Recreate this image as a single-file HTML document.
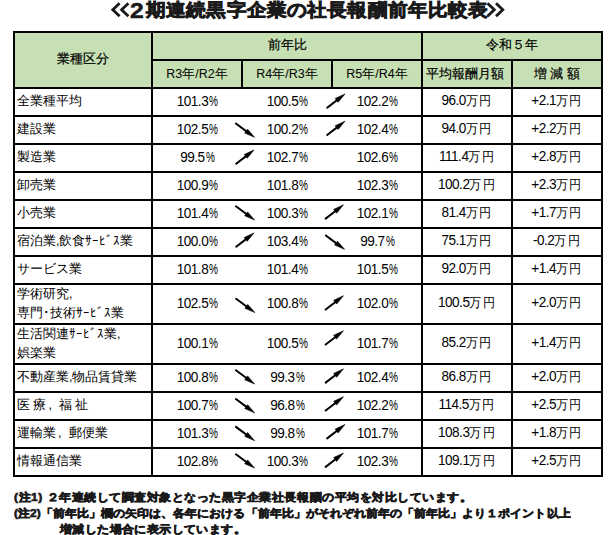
<!DOCTYPE html>
<html lang="ja"><head><meta charset="utf-8"><title>2期連続黒字企業の社長報酬前年比較表</title>
<style>
*{margin:0;padding:0;box-sizing:border-box}
html,body{width:616px;height:535px;background:#fff;overflow:hidden}
body{position:relative;font-family:"Liberation Sans",sans-serif;color:#000}
.h{position:absolute;background:#000;height:2px}
.v{position:absolute;background:#000;width:2px}
.c{position:absolute;display:flex;align-items:center;justify-content:center;white-space:nowrap}
.lb{position:absolute;display:flex;align-items:center;white-space:nowrap;font-size:12.5px;line-height:19.5px;padding-left:2px}
.n{font-size:13.6px;letter-spacing:-0.5px}
.n span{display:block;margin-top:-2px;transform:scaleY(1.07)}
.n i{font-style:normal;font-size:12.5px;letter-spacing:0.3px}
.n b{font-weight:normal;display:inline-block;transform:scaleX(0.74);transform-origin:0 0;margin-left:0.9px;margin-right:-3.4px}
.hd{font-size:12.5px;color:#000;-webkit-text-stroke:0.2px #000}
.hr{-webkit-text-stroke:0}
.hk{font-size:12.5px}
.cm{display:inline-block;width:12.5px;padding-left:2px}
#title{position:absolute;left:146px;top:0.3px;transform:scaleY(0.92);transform-origin:0 0;letter-spacing:0.15px;font-size:20px;font-weight:bold;line-height:20px;color:#1a1a1a;-webkit-text-stroke:0.9px #1a1a1a;white-space:nowrap}
#t2{position:absolute;left:130px;top:0.5px;font-size:22px;transform:scaleX(1.12);transform-origin:0 0;font-weight:bold;line-height:20px;color:#1a1a1a;-webkit-text-stroke:0.5px #1a1a1a}
.fn{position:absolute;left:14px;font-size:12px;font-weight:bold;line-height:14px;color:#1a1a1a;white-space:nowrap;-webkit-text-stroke:0.7px #1a1a1a;transform:scaleY(0.92);transform-origin:0 0}
svg{position:absolute;left:0;top:0}
</style></head><body>
<svg width="616" height="24" style="position:absolute;left:0;top:0"><g fill="none" stroke="#1a1a1a" stroke-width="2.8" stroke-linejoin="miter" stroke-miterlimit="10"><path d="M119.6,3.2 L112.8,9.7 L119.6,16.2"/><path d="M128.4,3.2 L121.6,9.7 L128.4,16.2"/><path d="M487.5,3.2 L494.3,9.7 L487.5,16.2"/><path d="M496,3.2 L502.8,9.7 L496,16.2"/></g></svg>
<div id="t2">2</div><div id="title">期連続黒字企業の社長報酬前年比較表</div>
<div style="position:absolute;left:15px;top:33px;width:586px;height:54px;background:#c6e0b4"></div>

<div class="v" style="left:13px;top:31px;height:446px"></div>
<div class="v" style="left:601px;top:31px;height:446px"></div>
<div class="h" style="left:13px;top:31px;width:590px"></div>
<div class="h" style="left:151px;top:59px;width:452px"></div>
<div class="h" style="left:13px;top:87px;width:590px"></div>
<div class="h" style="left:13px;top:115px;width:590px"></div>
<div class="h" style="left:13px;top:143px;width:590px"></div>
<div class="h" style="left:13px;top:171px;width:590px"></div>
<div class="h" style="left:13px;top:199px;width:590px"></div>
<div class="h" style="left:13px;top:227px;width:590px"></div>
<div class="h" style="left:13px;top:255px;width:590px"></div>
<div class="h" style="left:13px;top:283px;width:590px"></div>
<div class="h" style="left:13px;top:323px;width:590px"></div>
<div class="h" style="left:13px;top:363px;width:590px"></div>
<div class="h" style="left:13px;top:391px;width:590px"></div>
<div class="h" style="left:13px;top:419px;width:590px"></div>
<div class="h" style="left:13px;top:447px;width:590px"></div>
<div class="h" style="left:13px;top:475px;width:590px"></div>
<div class="v" style="left:151px;top:31px;height:446px"></div>
<div class="v" style="left:421px;top:31px;height:446px"></div>
<div class="v" style="left:511px;top:59px;height:418px"></div>
<div class="v" style="left:241px;top:59px;height:30px"></div>
<div class="v" style="left:331px;top:59px;height:30px"></div>
<div class="c hd" style="left:15px;top:31px;width:136px;height:56px">業種区分</div>
<div class="c hd" style="left:153px;top:31px;width:268px;height:28px">前年比</div>
<div class="c hd" style="left:423px;top:31px;width:178px;height:28px">令和５年</div>
<div class="c hd hr" style="left:153px;top:61px;width:88px;height:26px">R3年/R2年</div>
<div class="c hd hr" style="left:243px;top:61px;width:88px;height:26px">R4年/R3年</div>
<div class="c hd hr" style="left:333px;top:61px;width:88px;height:26px">R5年/R4年</div>
<div class="c hd" style="left:420.5px;top:61px;width:88px;height:26px">平均報酬月額</div>
<div class="c hd" style="left:513px;top:61px;width:88px;height:26px">増 減 額</div>
<div class="lb" style="left:15px;top:89px;width:136px;height:26px"><div>全業種平均</div></div>
<div class="c n" style="left:153px;top:89px;width:88px;height:26px"><span>101.3<b>%</b></span></div>
<div class="c n" style="left:243px;top:89px;width:88px;height:26px"><span>100.5<b>%</b></span></div>
<div class="c n" style="left:333px;top:89px;width:88px;height:26px"><span>102.2<b>%</b></span></div>
<div class="c n" style="left:423px;top:89px;width:88px;height:26px"><span>96.0<i>万</i><i>円</i></span></div>
<div class="c n" style="left:513px;top:89px;width:88px;height:26px"><span>+2.1<i>万</i><i>円</i></span></div>
<div class="lb" style="left:15px;top:117px;width:136px;height:26px"><div>建設業</div></div>
<div class="c n" style="left:153px;top:117px;width:88px;height:26px"><span>102.5<b>%</b></span></div>
<div class="c n" style="left:243px;top:117px;width:88px;height:26px"><span>100.2<b>%</b></span></div>
<div class="c n" style="left:333px;top:117px;width:88px;height:26px"><span>102.4<b>%</b></span></div>
<div class="c n" style="left:423px;top:117px;width:88px;height:26px"><span>94.0<i>万</i><i>円</i></span></div>
<div class="c n" style="left:513px;top:117px;width:88px;height:26px"><span>+2.2<i>万</i><i>円</i></span></div>
<div class="lb" style="left:15px;top:145px;width:136px;height:26px"><div>製造業</div></div>
<div class="c n" style="left:153px;top:145px;width:88px;height:26px"><span>99.5<b>%</b></span></div>
<div class="c n" style="left:243px;top:145px;width:88px;height:26px"><span>102.7<b>%</b></span></div>
<div class="c n" style="left:333px;top:145px;width:88px;height:26px"><span>102.6<b>%</b></span></div>
<div class="c n" style="left:423px;top:145px;width:88px;height:26px"><span>111.4<i>万</i><i>円</i></span></div>
<div class="c n" style="left:513px;top:145px;width:88px;height:26px"><span>+2.8<i>万</i><i>円</i></span></div>
<div class="lb" style="left:15px;top:173px;width:136px;height:26px"><div>卸売業</div></div>
<div class="c n" style="left:153px;top:173px;width:88px;height:26px"><span>100.9<b>%</b></span></div>
<div class="c n" style="left:243px;top:173px;width:88px;height:26px"><span>101.8<b>%</b></span></div>
<div class="c n" style="left:333px;top:173px;width:88px;height:26px"><span>102.3<b>%</b></span></div>
<div class="c n" style="left:423px;top:173px;width:88px;height:26px"><span>100.2<i>万</i><i>円</i></span></div>
<div class="c n" style="left:513px;top:173px;width:88px;height:26px"><span>+2.3<i>万</i><i>円</i></span></div>
<div class="lb" style="left:15px;top:201px;width:136px;height:26px"><div>小売業</div></div>
<div class="c n" style="left:153px;top:201px;width:88px;height:26px"><span>101.4<b>%</b></span></div>
<div class="c n" style="left:243px;top:201px;width:88px;height:26px"><span>100.3<b>%</b></span></div>
<div class="c n" style="left:333px;top:201px;width:88px;height:26px"><span>102.1<b>%</b></span></div>
<div class="c n" style="left:423px;top:201px;width:88px;height:26px"><span>81.4<i>万</i><i>円</i></span></div>
<div class="c n" style="left:513px;top:201px;width:88px;height:26px"><span>+1.7<i>万</i><i>円</i></span></div>
<div class="lb" style="left:15px;top:229px;width:136px;height:26px"><div>宿泊業,飲食<span class='hk'>ｻｰﾋﾞｽ</span>業</div></div>
<div class="c n" style="left:153px;top:229px;width:88px;height:26px"><span>100.0<b>%</b></span></div>
<div class="c n" style="left:243px;top:229px;width:88px;height:26px"><span>103.4<b>%</b></span></div>
<div class="c n" style="left:333px;top:229px;width:88px;height:26px"><span>99.7<b>%</b></span></div>
<div class="c n" style="left:423px;top:229px;width:88px;height:26px"><span>75.1<i>万</i><i>円</i></span></div>
<div class="c n" style="left:513px;top:229px;width:88px;height:26px"><span>-0.2<i>万</i><i>円</i></span></div>
<div class="lb" style="left:15px;top:257px;width:136px;height:26px"><div>サービス業</div></div>
<div class="c n" style="left:153px;top:257px;width:88px;height:26px"><span>101.8<b>%</b></span></div>
<div class="c n" style="left:243px;top:257px;width:88px;height:26px"><span>101.4<b>%</b></span></div>
<div class="c n" style="left:333px;top:257px;width:88px;height:26px"><span>101.5<b>%</b></span></div>
<div class="c n" style="left:423px;top:257px;width:88px;height:26px"><span>92.0<i>万</i><i>円</i></span></div>
<div class="c n" style="left:513px;top:257px;width:88px;height:26px"><span>+1.4<i>万</i><i>円</i></span></div>
<div class="lb" style="left:15px;top:285px;width:136px;height:38px"><div>学術研究,<br>専門･技術<span class='hk'>ｻｰﾋﾞｽ</span>業</div></div>
<div class="c n" style="left:153px;top:285px;width:88px;height:38px"><span>102.5<b>%</b></span></div>
<div class="c n" style="left:243px;top:285px;width:88px;height:38px"><span>100.8<b>%</b></span></div>
<div class="c n" style="left:333px;top:285px;width:88px;height:38px"><span>102.0<b>%</b></span></div>
<div class="c n" style="left:423px;top:285px;width:88px;height:38px"><span>100.5<i>万</i><i>円</i></span></div>
<div class="c n" style="left:513px;top:285px;width:88px;height:38px"><span>+2.0<i>万</i><i>円</i></span></div>
<div class="lb" style="left:15px;top:325px;width:136px;height:38px"><div>生活関連<span class='hk'>ｻｰﾋﾞｽ</span>業,<br>娯楽業</div></div>
<div class="c n" style="left:153px;top:325px;width:88px;height:38px"><span>100.1<b>%</b></span></div>
<div class="c n" style="left:243px;top:325px;width:88px;height:38px"><span>100.5<b>%</b></span></div>
<div class="c n" style="left:333px;top:325px;width:88px;height:38px"><span>101.7<b>%</b></span></div>
<div class="c n" style="left:423px;top:325px;width:88px;height:38px"><span>85.2<i>万</i><i>円</i></span></div>
<div class="c n" style="left:513px;top:325px;width:88px;height:38px"><span>+1.4<i>万</i><i>円</i></span></div>
<div class="lb" style="left:15px;top:365px;width:136px;height:26px"><div>不動産業,物品賃貸業</div></div>
<div class="c n" style="left:153px;top:365px;width:88px;height:26px"><span>100.8<b>%</b></span></div>
<div class="c n" style="left:243px;top:365px;width:88px;height:26px"><span>99.3<b>%</b></span></div>
<div class="c n" style="left:333px;top:365px;width:88px;height:26px"><span>102.4<b>%</b></span></div>
<div class="c n" style="left:423px;top:365px;width:88px;height:26px"><span>86.8<i>万</i><i>円</i></span></div>
<div class="c n" style="left:513px;top:365px;width:88px;height:26px"><span>+2.0<i>万</i><i>円</i></span></div>
<div class="lb" style="left:15px;top:393px;width:136px;height:26px"><div>医 療<span class='cm'>,</span>福 祉</div></div>
<div class="c n" style="left:153px;top:393px;width:88px;height:26px"><span>100.7<b>%</b></span></div>
<div class="c n" style="left:243px;top:393px;width:88px;height:26px"><span>96.8<b>%</b></span></div>
<div class="c n" style="left:333px;top:393px;width:88px;height:26px"><span>102.2<b>%</b></span></div>
<div class="c n" style="left:423px;top:393px;width:88px;height:26px"><span>114.5<i>万</i><i>円</i></span></div>
<div class="c n" style="left:513px;top:393px;width:88px;height:26px"><span>+2.5<i>万</i><i>円</i></span></div>
<div class="lb" style="left:15px;top:421px;width:136px;height:26px"><div>運輸業<span class='cm'>,</span>郵便業</div></div>
<div class="c n" style="left:153px;top:421px;width:88px;height:26px"><span>101.3<b>%</b></span></div>
<div class="c n" style="left:243px;top:421px;width:88px;height:26px"><span>99.8<b>%</b></span></div>
<div class="c n" style="left:333px;top:421px;width:88px;height:26px"><span>101.7<b>%</b></span></div>
<div class="c n" style="left:423px;top:421px;width:88px;height:26px"><span>108.3<i>万</i><i>円</i></span></div>
<div class="c n" style="left:513px;top:421px;width:88px;height:26px"><span>+1.8<i>万</i><i>円</i></span></div>
<div class="lb" style="left:15px;top:449px;width:136px;height:26px"><div>情報通信業</div></div>
<div class="c n" style="left:153px;top:449px;width:88px;height:26px"><span>102.8<b>%</b></span></div>
<div class="c n" style="left:243px;top:449px;width:88px;height:26px"><span>100.3<b>%</b></span></div>
<div class="c n" style="left:333px;top:449px;width:88px;height:26px"><span>102.3<b>%</b></span></div>
<div class="c n" style="left:423px;top:449px;width:88px;height:26px"><span>109.1<i>万</i><i>円</i></span></div>
<div class="c n" style="left:513px;top:449px;width:88px;height:26px"><span>+2.5<i>万</i><i>円</i></span></div>
<svg width="616" height="535" viewBox="0 0 616 535">
<defs><g id="au"><path d="M-8.5,6.5 L2,-1.6" stroke="#000" stroke-width="2" stroke-linecap="round"/><path d="M9.3,-7.3 L-0.47,-2.76 L2.47,1.04 Z" fill="#000" stroke="#000" stroke-width="0.6" stroke-linejoin="round"/></g>
<g id="ad"><path d="M-9,-6.5 L2.2,1.8" stroke="#000" stroke-width="2" stroke-linecap="round"/><path d="M9.7,7.3 L-0.18,2.99 L2.68,-0.87 Z" fill="#000" stroke="#000" stroke-width="0.6" stroke-linejoin="round"/></g></defs>
<use href="#au" x="335.65" y="101.25"/>
<use href="#ad" x="244.9" y="130.05"/>
<use href="#au" x="335.65" y="128.45"/>
<use href="#au" x="244.7" y="157.25"/>
<use href="#ad" x="244.9" y="212.75"/>
<use href="#au" x="334.15" y="212.15"/>
<use href="#au" x="244.7" y="240.25"/>
<use href="#ad" x="334.85" y="242.05"/>
<use href="#ad" x="245.1" y="305.25"/>
<use href="#au" x="334.15" y="303.05"/>
<use href="#au" x="334.15" y="338.05"/>
<use href="#ad" x="244.9" y="376.75"/>
<use href="#au" x="334.15" y="376.15"/>
<use href="#ad" x="244.9" y="405.55"/>
<use href="#au" x="334.15" y="404.05"/>
<use href="#ad" x="244.9" y="433.35"/>
<use href="#au" x="335.65" y="431.85"/>
<use href="#ad" x="244.9" y="460.75"/>
<use href="#au" x="334.15" y="460.35"/>
</svg>
<div class="fn" style="top:491px;letter-spacing:0.52px">(注1) ２年連続して調査対象となった黒字企業社長報酬の平均を対比しています。</div>
<div class="fn" style="top:507px;letter-spacing:0.04px">(注2)「前年比」欄の矢印は、各年における「前年比」がそれぞれ前年の「前年比」より１ポイント以上</div>
<div class="fn" style="top:522.5px;left:60px;letter-spacing:0.4px">増減した場合に表示しています。</div>
</body></html>
